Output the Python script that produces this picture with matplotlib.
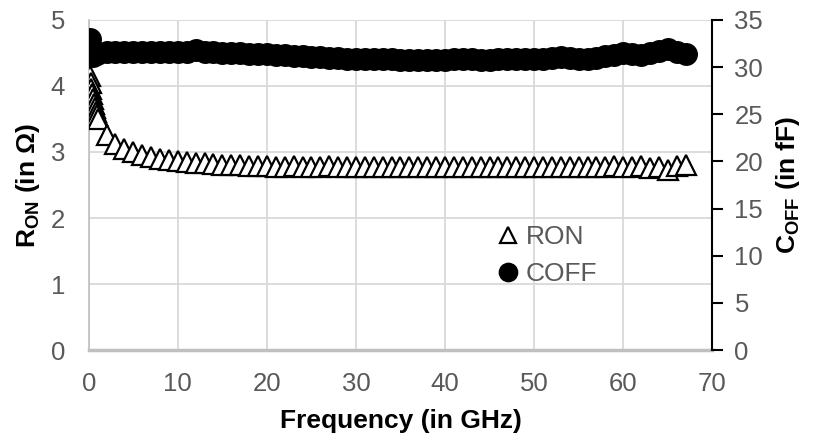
#!/usr/bin/env python3
import matplotlib
matplotlib.use('Agg')
from matplotlib import pyplot as plt

# data
freq = [0.1, 0.2, 0.3, 0.4, 0.5, 0.6, 0.7, 0.8, 0.9, 1.0] + list(range(2, 68))

ron = [4.15, 4.05, 3.95, 3.87, 3.80, 3.73, 3.67, 3.61, 3.56, 3.50,
       3.25, 3.12, 3.05, 3.00, 2.96, 2.93, 2.90, 2.88, 2.86,
       2.85, 2.84, 2.83, 2.82, 2.81, 2.80, 2.80, 2.79, 2.79, 2.79,
       2.78, 2.78, 2.79, 2.78, 2.78, 2.78, 2.79, 2.78, 2.78, 2.78,
       2.78, 2.78, 2.77, 2.78, 2.78, 2.77, 2.78, 2.77, 2.77, 2.77,
       2.78, 2.77, 2.78, 2.78, 2.77, 2.78, 2.78, 2.78, 2.77, 2.78,
       2.78, 2.77, 2.78, 2.78, 2.77, 2.78, 2.77, 2.78, 2.79, 2.77,
       2.78, 2.79, 2.76, 2.78, 2.72, 2.79, 2.80]

coff = [33.0, 31.3, 32.0, 31.5, 31.2, 31.6, 31.4, 31.5, 31.4, 31.5,
        31.6, 31.6, 31.6, 31.6, 31.6, 31.6, 31.6, 31.6, 31.6,
        31.6, 31.8, 31.6, 31.6, 31.5, 31.5, 31.5, 31.4, 31.4, 31.4,
        31.3, 31.3, 31.2, 31.2, 31.1, 31.1, 31.0, 31.0, 30.9, 30.9,
        30.9, 30.8, 30.8, 30.8, 30.75, 30.75, 30.7, 30.7, 30.7, 30.7,
        30.8, 30.9, 30.8, 30.7, 30.7, 30.8, 30.8, 30.8, 30.9, 30.9,
        30.9, 31.0, 31.05, 30.95, 30.85, 30.9, 31.0, 31.2, 31.3, 31.45,
        31.35, 31.3, 31.5, 31.7, 31.95, 31.55, 31.4]

plt.rcParams['font.family'] = ['Liberation Sans', 'DejaVu Sans']
plt.rcParams['mathtext.fontset'] = 'custom'
plt.rcParams['mathtext.rm'] = 'Liberation Sans'
plt.rcParams['mathtext.bf'] = 'Liberation Sans:bold'

grey_text = '#595959'
grid_col = '#D9D9D9'

fig = plt.figure(figsize=(8.14, 4.41), dpi=100)
ax = fig.add_axes([0.109, 0.206, 0.766, 0.749])
ax2 = ax.twinx()

l1, = ax.plot(freq, ron, '^', ms=14, mfc='white', mec='black', mew=1.6,
              label='RON', zorder=3)
l2, = ax2.plot(freq, coff, 'o', ms=15.5, color='black', label='COFF', zorder=3)

ax.set_xlim(0, 70)
ax.set_ylim(0, 5)
ax2.set_ylim(0, 35)
ax.set_xticks(range(0, 71, 10))
ax.set_yticks(range(0, 6))
ax2.set_yticks(range(0, 36, 5))

ax.grid(True, color=grid_col, lw=1.3)
ax.set_axisbelow(True)

for s in ['top', 'right']:
    ax.spines[s].set_visible(False)
ax.spines['left'].set_color('#BFBFBF')
ax.spines['left'].set_linewidth(1.2)
ax.spines['bottom'].set_color('#BFBFBF')
ax.spines['bottom'].set_linewidth(2.5)
for s in ['top', 'left', 'bottom']:
    ax2.spines[s].set_visible(False)
ax2.spines['right'].set_color('black')
ax2.spines['right'].set_linewidth(1.5)

ax.tick_params(axis='both', length=0, labelsize=18.5, labelcolor=grey_text)
ax.tick_params(axis='y', pad=17)
ax.tick_params(axis='x', pad=16)
ax2.tick_params(axis='y', length=8, width=1.5, direction='out',
                labelsize=18.5, labelcolor=grey_text, pad=8)

ax.set_xlabel('Frequency (in GHz)', fontsize=19, fontweight='bold', labelpad=9)
ax.set_ylabel(r'R$_\mathbf{ON}$ (in Ω)', fontsize=19, fontweight='bold', labelpad=6)
ax2.set_ylabel(r'C$_\mathbf{OFF}$ (in fF)', fontsize=19, fontweight='bold', labelpad=8)

leg = ax2.legend(handles=[l1, l2], loc='upper left', bbox_to_anchor=(0.62, 0.45),
                 frameon=False, fontsize=19, handlelength=0.7, handletextpad=0.3,
                 labelspacing=0.5, markerscale=0.85)
for t in leg.get_texts():
    t.set_color(grey_text)

plt.savefig('out.png', dpi=100)
